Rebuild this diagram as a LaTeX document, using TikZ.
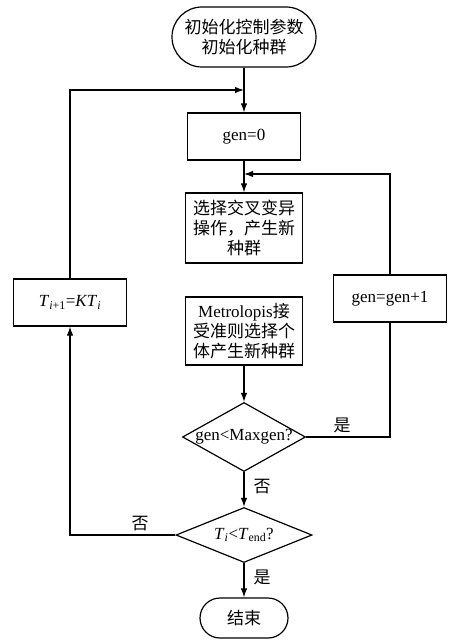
\documentclass[tikz,border=0pt]{standalone}
\usepackage{fontspec}
\setmainfont{Liberation Serif}
\newfontfamily\cjk{Noto Sans CJK SC}
\newcommand{\zh}[1]{{\cjk #1}}
\usetikzlibrary{arrows.meta,shapes.geometric}
\tikzset{
  box/.style={draw, minimum width=113pt, minimum height=47pt, align=center, inner sep=0pt},
  term/.style={draw, rounded corners=20pt, align=center, inner sep=0pt},
  decide/.style={draw, diamond, inner sep=0pt},
}
\begin{document}
\begin{tikzpicture}[x=1pt, y=-1pt, line width=1.2pt, >={Latex[length=9pt,width=6.5pt]},
    font=\fontsize{17}{20}\selectfont]
    \useasboundingbox (0,0) rectangle (455,642);
    \node[term, minimum width=144pt, minimum height=60pt, rounded corners=30pt] (start) at (244,37) {\zh{初始化控制参数}\\\zh{初始化种群}};
    \node[box] (gen0) at (244,136.5) {gen=0};
    \node[box, minimum width=117pt, minimum height=70pt] (cross) at (244,228) {\zh{选择交叉变异}\\\zh{操作，产生新}\\\zh{种群}};
    \node[box, minimum width=117pt, minimum height=68pt] (metro) at (244,331) {Metrolopis\zh{接}\\\zh{受准则选择个}\\\zh{体产生新种群}};
    \node[decide, minimum width=123pt, minimum height=69pt] (d1) at (244,437) {\makebox[0pt]{gen<Maxgen?}};
    \node[decide, minimum width=136pt, minimum height=55pt] (d2) at (244,535) {\makebox[0pt]{\textit{T}\textsubscript{\textit{i}}<\textit{T}\textsubscript{end}?}};
    \node[term, minimum width=88pt, minimum height=40pt] (fin) at (244,618) {\zh{结束}};
    \node[box] (gg1) at (390,298.5) {gen=gen+1};
    \node[box] (tk) at (70,302.5) {\textit{T}\textsubscript{\textit{i}+1}=\textit{KT}\textsubscript{\textit{i}}};
    \node (yes1) at (342,425) {\zh{是}};
    \node (no1) at (262,487) {\zh{否}};
    \node (no2) at (140,524) {\zh{否}};
    \node (yes2) at (262,577) {\zh{是}};
    \coordinate (j1) at (244,90);
    \coordinate (j2) at (244,174);
    \draw[->] (start) -- (gen0);
    \draw[->] (tk.north) |- (j1);
    \draw[->] (gen0) -- (cross);
    \draw[->] (metro) -- (d1);
    \draw (d1.east) -| (gg1.south);
    \draw[->] (gg1.north) |- (j2);
    \draw[->] (d1) -- (d2);
    \draw[->] (d2.west) -| (tk.south);
    \draw[->] (d2) -- (fin);
\end{tikzpicture}
\end{document}
